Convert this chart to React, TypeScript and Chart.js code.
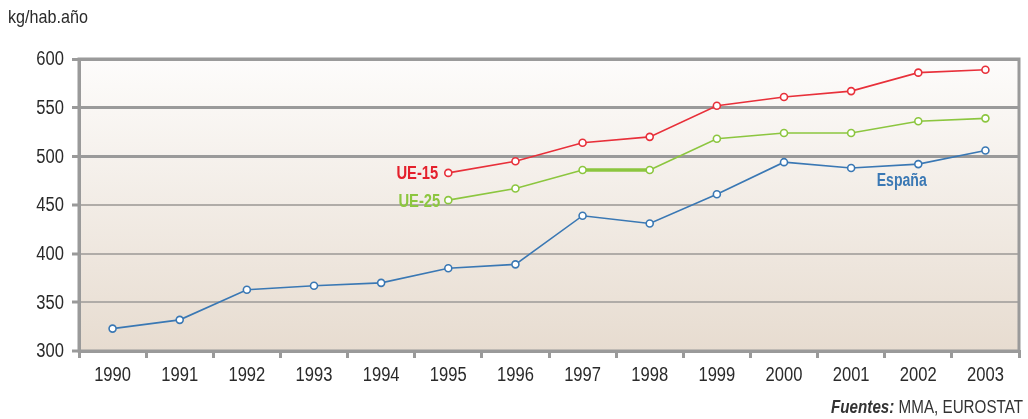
import React, { useEffect, useRef } from "react";
import { Chart, registerables } from "chart.js";

Chart.register(...registerables);

const years = ["1990","1991","1992","1993","1994","1995","1996","1997","1998","1999","2000","2001","2002","2003"];
const espana = [323, 332, 363, 367, 370, 385, 389, 439, 431, 461, 494, 488, 492, 506];
const ue15 = [null, null, null, null, null, 483, 495, 514, 520, 552, 561, 567, 586, 589];
const ue25 = [null, null, null, null, null, 455, 467, 486, 486, 518, 524, 524, 536, 539];
const yTicks = [300, 350, 400, 450, 500, 550, 600];

const RED = "#e8303a";
const GREEN = "#8cc63f";
const BLUE = "#3a78b4";
const FONT = "'Liberation Sans', Arial, sans-serif";

function narrowText(ctx: any, text: string, x: number, y: number, align: "left" | "right" | "center", sx: number) {
  ctx.save();
  ctx.translate(x, y);
  ctx.scale(sx, 1);
  ctx.textAlign = align;
  ctx.fillText(text, 0, 0);
  ctx.restore();
}

const bgPlugin = {
  id: "bg",
  beforeDraw(chart: any) {
    const { ctx, chartArea: a } = chart;
    const g = ctx.createLinearGradient(0, a.top, 0, a.bottom);
    g.addColorStop(0, "#fdfcfb");
    g.addColorStop(1, "#e7dcd0");
    ctx.save();
    ctx.fillStyle = g;
    ctx.fillRect(a.left, a.top, a.right - a.left, a.bottom - a.top);
    ctx.restore();
  },
  afterDraw(chart: any) {
    const { ctx, chartArea: a } = chart;
    ctx.save();
    ctx.strokeStyle = "#9a9a9a";
    ctx.lineWidth = 3;
    ctx.beginPath();
    ctx.moveTo(a.left, a.top);
    ctx.lineTo(a.right, a.top);
    ctx.lineTo(a.right, a.bottom);
    ctx.lineTo(a.left, a.bottom);
    ctx.closePath();
    ctx.stroke();

    // axis tick labels (condensed)
    const xs = chart.scales.x;
    const ys = chart.scales.y;
    ctx.fillStyle = "#2a2a2a";
    ctx.font = `19.5px ${FONT}`;
    ctx.textBaseline = "middle";
    years.forEach((yr, i) => {
      narrowText(ctx, yr, xs.getPixelForValue(i), 376, "center", 0.85);
    });
    yTicks.forEach((v) => {
      narrowText(ctx, String(v), 64, ys.getPixelForValue(v) + 1, "right", 0.85);
    });

    // axis title
    ctx.font = `19px ${FONT}`;
    ctx.textBaseline = "middle";
    narrowText(ctx, "kg/hab.año", 8, 18, "left", 0.85);

    // source
    ctx.fillStyle = "#333333";
    ctx.font = `19px ${FONT}`;
    const rest = " MMA, EUROSTAT";
    ctx.save();
    ctx.translate(1023, 408);
    ctx.scale(0.8, 1);
    ctx.textAlign = "right";
    ctx.fillText(rest, 0, 0);
    const wRest = ctx.measureText(rest).width;
    ctx.font = `italic bold 19px ${FONT}`;
    ctx.fillText("Fuentes:", -wRest, 0);
    ctx.restore();

    ctx.restore();
  },
};

const labelPlugin = {
  id: "seriesLabels",
  afterDatasetsDraw(chart: any) {
    const { ctx } = chart;
    const x = chart.scales.x;
    const y = chart.scales.y;
    ctx.save();
    ctx.font = `bold 18px ${FONT}`;
    ctx.textBaseline = "middle";
    ctx.fillStyle = "#e4202c";
    narrowText(ctx, "UE-15", x.getPixelForValue(5) - 10, y.getPixelForValue(ue15[5] as number) + 1, "right", 0.82);
    ctx.fillStyle = GREEN;
    narrowText(ctx, "UE-25", x.getPixelForValue(5) - 8, y.getPixelForValue(ue25[5] as number) + 2, "right", 0.82);
    ctx.fillStyle = BLUE;
    narrowText(ctx, "España", (x.getPixelForValue(11) + x.getPixelForValue(12)) / 2 + 17, y.getPixelForValue(espana[12]) + 17, "center", 0.78);
    ctx.restore();
  },
};

export default function App() {
  const ref = useRef<HTMLCanvasElement>(null);
  useEffect(() => {
    document.body.style.margin = "0";
    const mk = (label: string, data: any[], color: string, thick?: number[]) => ({
      label,
      data,
      borderColor: color,
      backgroundColor: "#ffffff",
      borderWidth: 1.6,
      pointRadius: 3.5,
      pointBorderWidth: 1.6,
      pointBackgroundColor: "#ffffff",
      pointBorderColor: color,
      tension: 0,
      spanGaps: false,
      segment: thick
        ? { borderWidth: (c: any) => (thick.includes(c.p0DataIndex) ? 3.5 : 1.6) }
        : undefined,
    });
    const chart = new Chart(ref.current!, {
      type: "line",
      data: {
        labels: years,
        datasets: [mk("UE-15", ue15, RED), mk("UE-25", ue25, GREEN, [7]), mk("España", espana, BLUE)],
      },
      plugins: [bgPlugin, labelPlugin],
      options: {
        animation: false,
        responsive: false,
        maintainAspectRatio: false,
        layout: { padding: { top: 59, right: 9, left: 0, bottom: 0 } },
        plugins: { legend: { display: false }, tooltip: { enabled: false } },
        scales: {
          x: {
            offset: true,
            afterFit: (s: any) => { s.height = 68; },
            grid: {
              offset: true,
              drawOnChartArea: false,
              drawTicks: true,
              tickLength: 7,
              color: "#9a9a9a",
              lineWidth: 3,
            },
            border: { display: true, color: "#9a9a9a", width: 3 },
            ticks: { display: false, autoSkip: false, maxRotation: 0 },
          },
          y: {
            min: 300,
            max: 600,
            afterFit: (s: any) => { s.width = 79; },
            afterBuildTicks: (s: any) => { s.ticks = yTicks.map((v) => ({ value: v })); },
            grid: {
              color: (c: any) => (c.tick && (c.tick.value === 500 || c.tick.value === 550 || c.tick.value === 600) ? "#9a9a9a" : "#b0aca8"),
              lineWidth: (c: any) => (c.tick && (c.tick.value === 500 || c.tick.value === 550 || c.tick.value === 600) ? 3 : 2),
              tickLength: 7,
              tickColor: "#9a9a9a",
              tickWidth: 3,
            },
            border: { display: true, color: "#9a9a9a", width: 3 },
            ticks: { display: false },
          },
        },
      },
    });
    return () => chart.destroy();
  }, []);

  return (
    <div style={{ position: "relative", width: 1028, height: 419, background: "#ffffff" }}>
      <canvas ref={ref} width={1028} height={419} style={{ position: "absolute", left: 0, top: 0 }} />
    </div>
  );
}
